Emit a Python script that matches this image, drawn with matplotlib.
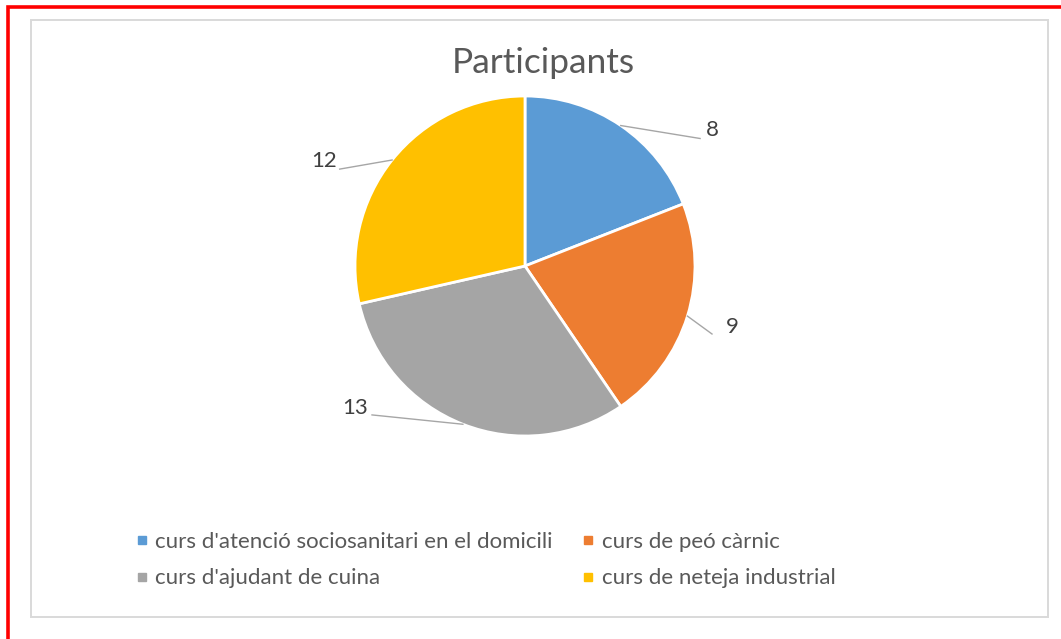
import matplotlib
matplotlib.use("Agg")
import matplotlib.pyplot as plt
from matplotlib.patches import Rectangle
from matplotlib.lines import Line2D
import numpy as np

categories = ["curs d'atenció sociosanitari en el domicili", "curs de peó càrnic",
              "curs d'ajudant de cuina", "curs de neteja industrial"]
values = [8, 9, 13, 12]
colors = ["#5B9BD5", "#ED7D31", "#A5A5A5", "#FFC000"]
title = "Participants"

# label placement (in units of pie radius): (line end, text position)
label_pos = [((1.03, 0.75), (1.10, 0.80)),
             ((1.10, -0.40), (1.22, -0.36)),
             ((-0.90, -0.876), (-1.00, -0.835)),
             ((-1.09, 0.57), (-1.18, 0.62))]

W, H = 1061, 639
fig = plt.figure(figsize=(W / 100, H / 100), dpi=100)
fig.patch.set_facecolor("white")
plt.rcParams['font.family'] = ['Lato', 'DejaVu Sans']

def px(x0, y0, w, h):
    return [x0 / W, 1 - (y0 + h) / H, w / W, h / H]

# borders
fig.add_artist(Rectangle((8 / W, -0.01), 1.1, 1 - 7 / H + 0.01, transform=fig.transFigure,
                         fill=False, edgecolor="#FF0000", linewidth=2.6))
fig.add_artist(Rectangle((31 / W, 1 - 617 / H), (1048 - 31) / W, (617 - 20) / H,
                         transform=fig.transFigure, fill=False, edgecolor="#D9D9D9", linewidth=1.4))

cx, cy, r = 525, 266, 170
ax = fig.add_axes(px(cx - r, cy - r, 2 * r, 2 * r))
wedges, _ = ax.pie(values, colors=colors, startangle=90, counterclock=False, radius=1,
                   wedgeprops=dict(edgecolor="white", linewidth=2))
ax.set_xlim(-1, 1)
ax.set_ylim(-1, 1)
ax.set_aspect("equal")
ax.axis("off")

total = sum(values)
cum = 0
for v, (lend, tpos) in zip(values, label_pos):
    mid = np.deg2rad(90 - (cum + v / 2) / total * 360)
    cum += v
    sx, sy = np.cos(mid) * 1.0, np.sin(mid) * 1.0
    ax.add_line(Line2D([sx, lend[0]], [sy, lend[1]], color="#A6A6A6", linewidth=1,
                       clip_on=False))
    ax.text(tpos[0], tpos[1], str(v), ha="center", va="center", fontsize=16,
            color="#404040", clip_on=False)

fig.text(543 / W, 1 - 63 / H, title, ha="center", va="center", fontsize=25.5, color="#595959")

order = [0, 2, 1, 3]
handles = [Line2D([], [], marker="s", linestyle="none", markersize=5.5,
                  markerfacecolor=colors[i], markeredgecolor=colors[i]) for i in order]
labels = [categories[i] for i in order]
leg = fig.legend(handles, labels, ncol=2, loc="center left",
                 bbox_to_anchor=(115 / W, 1 - 560 / H), frameon=False, fontsize=16,
                 labelcolor="#595959", handlelength=0.6, handletextpad=0.3,
                 columnspacing=1.32, labelspacing=0.76)

fig.savefig("out.png", dpi=100, facecolor="white")
